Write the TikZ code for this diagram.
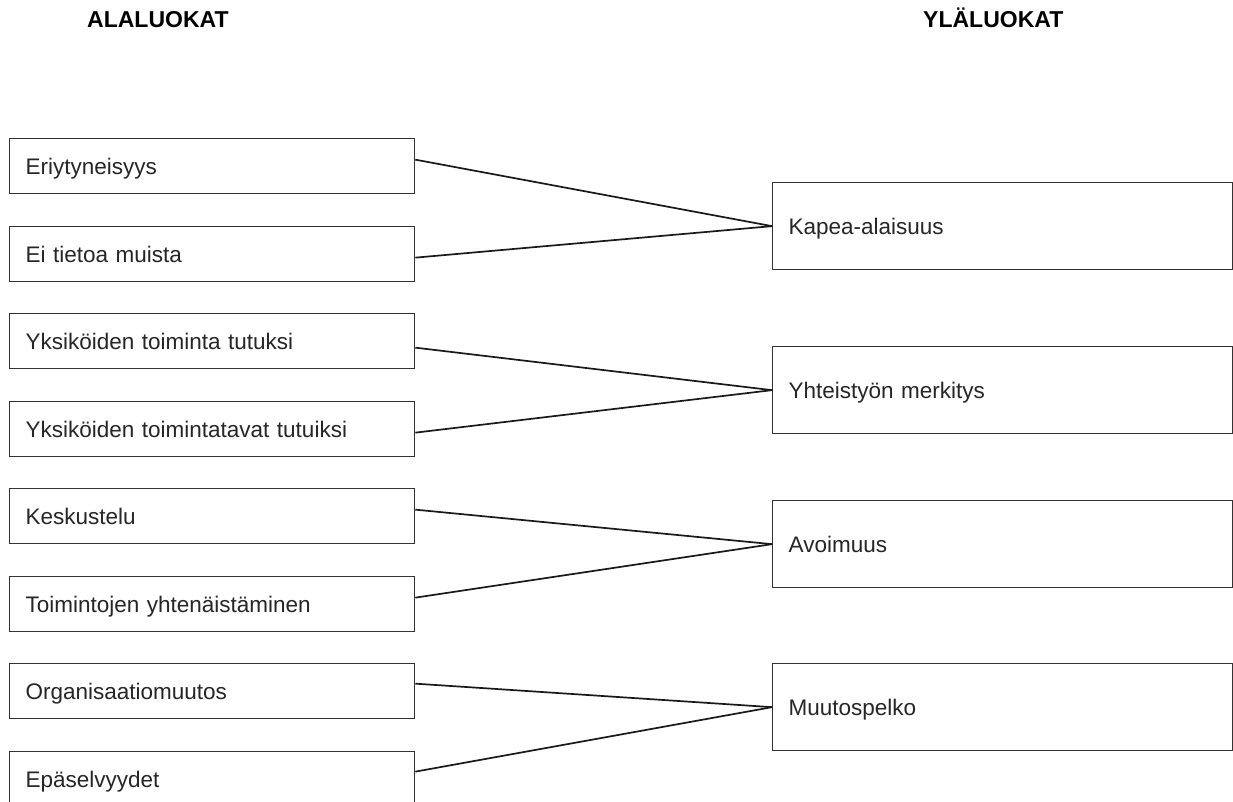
\documentclass[tikz,border=0pt]{standalone}
\usepackage{fontspec}
\setmainfont{Liberation Sans}
\begin{document}
\begin{tikzpicture}[x=1pt,y=-1pt,
  sub/.style={draw=black!80, line width=1.3pt, anchor=north west, inner xsep=16pt, inner ysep=0pt,
    text width=373pt, align=left, minimum height=55pt, text=black!85,
    text height=16pt, text depth=0pt,
    font=\fontsize{22.5}{27}\selectfont},
  top/.style={sub, text width=428pt, minimum height=87pt},
  head/.style={font=\fontsize{23}{27}\selectfont\bfseries, text=black, inner sep=0pt, anchor=base west},
  link/.style={draw=black!90, line width=1.7pt}]
\clip (0,0) rectangle (1233,802);
\fill[white] (0,0) rectangle (1233,802);

% column headings
\node[head] (hl) at (87,28) {ALALUOKAT};
\node[head] (hr) at (923,28) {YLÄLUOKAT};

% subcategories
\node[sub] (s1) at (9,138) {Eriytyneisyys};
\node[sub] (s2) at (9,226) {Ei tietoa muista};
\node[sub] (s3) at (9,313) {Yksiköiden toiminta tutuksi};
\node[sub] (s4) at (9,401) {Yksiköiden toimintatavat tutuiksi};
\node[sub] (s5) at (9,488) {Keskustelu};
\node[sub] (s6) at (9,576) {Toimintojen yhtenäistäminen};
\node[sub] (s7) at (9,663) {Organisaatiomuutos};
\node[sub] (s8) at (9,751) {Epäselvyydet};

% main categories
\node[top] (t1) at (772,182) {Kapea-alaisuus};
\node[top] (t2) at (772,346) {Yhteistyön merkitys};
\node[top] (t3) at (772,500) {Avoimuus};
\node[top] (t4) at (772,663) {Muutospelko};

% connectors
\draw[link] ([yshift=6.5pt]s1.east) -- (t1.west);
\draw[link] ([yshift=-3.5pt]s2.east) -- (t1.west);
\draw[link] ([yshift=-6.5pt]s3.east) -- (t2.west);
\draw[link] ([yshift=-3.5pt]s4.east) -- (t2.west);
\draw[link] ([yshift=6.5pt]s5.east) -- (t3.west);
\draw[link] ([yshift=6.5pt]s6.east) -- (t3.west);
\draw[link] ([yshift=7.5pt]s7.east) -- (t4.west);
\draw[link] ([yshift=7.5pt]s8.east) -- (t4.west);
\end{tikzpicture}
\end{document}
